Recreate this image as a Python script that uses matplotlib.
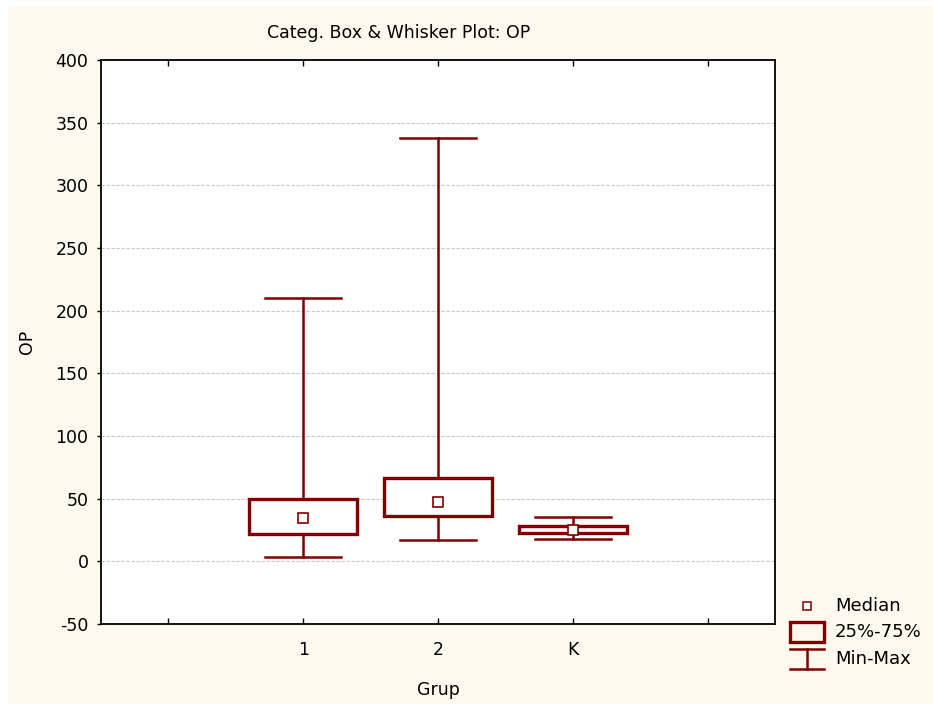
import matplotlib
matplotlib.use('Agg')
import matplotlib.pyplot as plt
from matplotlib.patches import Rectangle
from matplotlib.lines import Line2D

plt.rcParams['font.family'] = ['DejaVu Sans']
plt.rcParams['axes.unicode_minus'] = False

# data
groups = ['1', '2', 'K']
positions = [1, 2, 3]
mins = [3.2, 17.3, 17.6]
q1 = [21.6, 35.9, 22.9]
medians = [34.3, 47.3, 25.0]
q3 = [49.7, 66.3, 28.4]
maxs = [210.3, 338.0, 35.4]

red = '#800000'
cream = '#fdf9ee'
fs = 12.5

fig = plt.figure(figsize=(9.33, 7.04), dpi=100)
fig.patch.set_facecolor('white')
fig.patches.append(Rectangle((8 / 933, 0), 1, 1 - 6 / 704, transform=fig.transFigure,
                             facecolor=cream, edgecolor='none', zorder=-10))

ax = fig.add_axes([101 / 933, 80 / 704, 674 / 933, 564 / 704])
ax.set_facecolor('white')

stats = []
for i in range(len(groups)):
    stats.append({'med': medians[i], 'q1': q1[i], 'q3': q3[i],
                  'whislo': mins[i], 'whishi': maxs[i], 'label': groups[i]})

ax.bxp(stats, positions=positions, widths=0.8, capwidths=0.56,
       showfliers=False, patch_artist=True,
       boxprops=dict(facecolor='white', edgecolor=red, linewidth=2.4),
       whiskerprops=dict(color=red, linewidth=1.8),
       capprops=dict(color=red, linewidth=1.8),
       medianprops=dict(visible=False), zorder=3)
ax.plot(positions, medians, 's', ms=6.5, mfc='white', mec=red, mew=1.2, zorder=5)

ax.set_xlim(-0.5, 4.5)
ax.set_ylim(-50, 400)
ax.set_yticks(range(-50, 401, 50))
ax.set_xticks([0, 1, 2, 3, 4])
ax.set_xticklabels(['', '1', '2', 'K', ''])
ax.tick_params(axis='x', direction='in', top=True, length=4, width=1,
               labelsize=fs, pad=12)
ax.tick_params(axis='y', direction='out', length=3, width=1, labelsize=fs, pad=6)
for s in ax.spines.values():
    s.set_linewidth(1.3)
ax.grid(axis='y', color='#c8c8c8', linestyle=(0, (3, 1.5)), linewidth=0.8, zorder=0)
ax.set_axisbelow(True)

ax.set_xlabel('Grup', fontsize=fs, labelpad=16)
ax.set_ylabel('OP', fontsize=fs, labelpad=14)
fig.text(399 / 933, 1 - 33 / 704, 'Categ. Box & Whisker Plot: OP', fontsize=fs,
         ha='center', va='center')

# legend drawn in figure pixels
def fx(x):
    return x / 933

def fy(y):
    return 1 - y / 704

fig.add_artist(Line2D([fx(807)], [fy(606)], marker='s', ms=6, mfc='white', mec=red,
                      mew=1.1, transform=fig.transFigure))
fig.add_artist(Rectangle((fx(790), fy(642)), fx(824) - fx(790), fy(622) - fy(642),
                         facecolor='none', edgecolor=red, linewidth=2.4,
                         transform=fig.transFigure))
fig.add_artist(Line2D([fx(790), fx(824)], [fy(649), fy(649)], color=red, lw=1.8,
                      transform=fig.transFigure))
fig.add_artist(Line2D([fx(790), fx(824)], [fy(669), fy(669)], color=red, lw=1.8,
                      transform=fig.transFigure))
fig.add_artist(Line2D([fx(807), fx(807)], [fy(649), fy(669)], color=red, lw=1.8,
                      transform=fig.transFigure))
for label, y in [('Median', 606), ('25%-75%', 632), ('Min-Max', 659)]:
    fig.text(fx(835), fy(y), label, fontsize=13, ha='left', va='center')

fig.savefig('out.png', dpi=100, facecolor=fig.get_facecolor())
